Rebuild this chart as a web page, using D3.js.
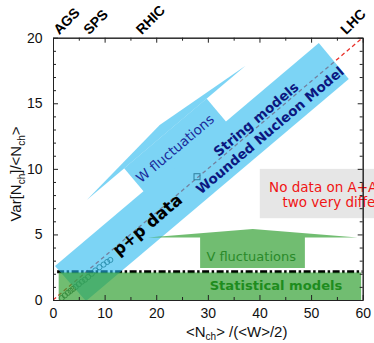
<!DOCTYPE html>
<html>
<head>
<meta charset="utf-8">
<script src="https://cdnjs.cloudflare.com/ajax/libs/d3/7.8.5/d3.min.js"></script>
<style>
  body { margin: 0; background: #fff; }
  svg { display: block; }
</style>
</head>
<body>
<div id="chart"></div>
<script>
// p+p data points
var ppX = [1.7, 2.3, 2.9, 3.4, 3.9, 4.4, 5.0, 5.6, 6.2, 6.8, 7.5, 8.2, 9.0, 9.8, 10.5, 11.1];
var ppY = [0.15, 0.35, 0.55, 0.7, 0.85, 1.0, 1.2, 1.4, 1.55, 1.75, 2.0, 2.25, 2.5, 2.7, 2.9, 3.05];
var aaX = [27.9];
var aaY = [9.4];

// ticks
var xTicks = [0, 10, 20, 30, 40, 50, 60];
var yTicks = [0, 5, 10, 15, 20];

// energy labels on the top axis
var machines = ["AGS", "SPS", "RHIC", "LHC"];
var machineX = [1.2, 7.0, 17.2, 56.8];

// reference line Var/N = N/(W/2)/3
var lineX = [0, 60];
var lineY = [0, 20];

// statistical model level
var statLevel = 2.15;
var statX = [1.1, 59.7];
var statLineX = [0.8, 60];

// string / wounded nucleon band (corners)
var bandX = [0.39, 51.5, 57.3, 6.39];
var bandY = [2.59, 19.6, 16.85, -0.08];

// W fluctuations arrow (shaft + head)
var wShaftX = [17.9, 33.87, 29.75, 13.78];
var wShaftY = [8.12, 13.43, 15.36, 10.04];
var wHeadX = [6.54, 20.67, 37.3];
var wHeadY = [7.63, 13.34, 17.87];

// V fluctuations arrow (shaft + head)
var vShaftX = [28.5, 48.8];
var vShaftY = [2.44, 4.9];
var vHeadX = [18.4, 38.7, 59.0];
var vHeadY = [4.77, 5.41, 4.77];

// no data box
var boxX = [40.06, 64];
var boxY = [6.24, 10.0];

var margin = {top: 37.7, right: 11.3, bottom: 43, left: 53},
    width = 374 - margin.left - margin.right,
    height = 343 - margin.top - margin.bottom;

var svgRoot = d3.select("#chart")
  .append("svg")
    .attr("width", 374)
    .attr("height", 343);

var svg = svgRoot.append("g")
    .attr("transform", "translate(" + margin.left + "," + margin.top + ")");

var x = d3.scaleLinear().domain([0, 60]).range([0, width]);
var y = d3.scaleLinear().domain([0, 20]).range([height, 0]);

// slope of the diagonal in screen space
var angle = Math.atan2(y(lineY[1]) - y(lineY[0]), x(lineX[1]) - x(lineX[0])) * 180 / Math.PI;

svg.append("clipPath").attr("id", "plotclip")
  .append("rect").attr("width", width).attr("height", height);

function poly(xs, ys) {
  var pts = xs.map(function(v, i) { return [x(v), y(ys[i])]; });
  return "M" + pts.map(function(p) { return p.join(","); }).join("L") + "Z";
}

// grey "no data" box
svg.append("rect")
  .attr("x", x(boxX[0]))
  .attr("y", y(boxY[1]))
  .attr("width", x(boxX[1]) - x(boxX[0]))
  .attr("height", y(boxY[0]) - y(boxY[1]))
  .attr("fill", "#e6e6e6");

var plot = svg.append("g").attr("clip-path", "url(#plotclip)");

// red dashed reference line
plot.append("line")
  .attr("x1", x(lineX[0])).attr("y1", y(lineY[0]))
  .attr("x2", x(lineX[1])).attr("y2", y(lineY[1]))
  .attr("stroke", "#e8302a")
  .attr("stroke-width", 1.3)
  .attr("stroke-dasharray", "4,3");

// p+p data
plot.selectAll("circle.pp")
  .data(ppX)
  .enter().append("circle")
    .attr("class", "pp")
    .attr("cx", function(d) { return x(d); })
    .attr("cy", function(d, i) { return y(ppY[i]); })
    .attr("r", 2.6)
    .attr("fill", "none")
    .attr("stroke", "#33504a")
    .attr("stroke-width", 0.9);

// statistical model line (dash-dot)
plot.append("line")
  .attr("x1", x(statLineX[0])).attr("y1", y(statLevel))
  .attr("x2", x(statLineX[1])).attr("y2", y(statLevel))
  .attr("stroke", "#000")
  .attr("stroke-width", 3)
  .attr("stroke-dasharray", "7,2.5,2.5,2.5");

// blue band + W arrow, composited together so overlaps don't darken
var blue = plot.append("g").attr("opacity", 0.6);
blue.append("path").attr("d", poly(bandX, bandY)).attr("fill", "#26b7ee");
blue.append("path").attr("d", poly(wShaftX, wShaftY)).attr("fill", "#26b7ee");
blue.append("path").attr("d", poly(wHeadX, wHeadY)).attr("fill", "#26b7ee");

// green statistical box + V arrow
var green = plot.append("g").attr("opacity", 0.7);
green.append("path")
  .attr("d", poly([statX[0], statX[1], statX[1], statX[0]], [0, 0, statLevel - 0.05, statLevel - 0.05]))
  .attr("fill", "#36a136");
green.append("path")
  .attr("d", poly([vShaftX[0], vShaftX[1], vShaftX[1], vShaftX[0]], [vShaftY[0], vShaftY[0], vShaftY[1], vShaftY[1]]))
  .attr("fill", "#36a136");
green.append("path")
  .attr("d", poly(vHeadX, vHeadY))
  .attr("fill", "#36a136");

// A+A marker
plot.selectAll("rect.aa")
  .data(aaX)
  .enter().append("rect")
    .attr("class", "aa")
    .attr("x", function(d) { return x(d) - 3; })
    .attr("y", function(d, i) { return y(aaY[i]) - 3; })
    .attr("width", 6).attr("height", 6)
    .attr("fill", "none")
    .attr("stroke", "#2f7f9f")
    .attr("stroke-width", 1);

// rotated labels along the band
function diagText(tx, ty, str, size, weight, color) {
  svg.append("text")
    .attr("transform", "translate(" + x(tx) + "," + y(ty) + ") rotate(" + angle + ")")
    .attr("text-anchor", "middle")
    .attr("dominant-baseline", "central")
    .attr("font-family", "DejaVu Sans")
    .attr("font-size", size)
    .attr("font-weight", weight)
    .attr("fill", color)
    .text(str);
}
diagText(18.3, 5.73, "p+p data", 16.5, "bold", "#000");
diagText(39.3, 13.8, "String models", 13.5, "bold", "#0b1780");
diagText(42.0, 12.96, "Wounded Nucleon Model", 13.5, "bold", "#0b1780");
diagText(23.6, 11.56, "W fluctuations", 13.5, "normal", "#1a2a9a");

svg.append("text")
  .attr("x", x(38.4)).attr("y", y(3.35))
  .attr("text-anchor", "middle")
  .attr("dominant-baseline", "central")
  .attr("font-family", "DejaVu Sans")
  .attr("font-size", 13)
  .attr("fill", "#2a8a2a")
  .text("V fluctuations");

svg.append("text")
  .attr("x", x(43.2)).attr("y", y(1.14))
  .attr("text-anchor", "middle")
  .attr("dominant-baseline", "central")
  .attr("font-family", "DejaVu Sans")
  .attr("font-size", 13.1)
  .attr("font-weight", "bold")
  .attr("fill", "#1e8c1e")
  .text("Statistical models");

// no data text (runs off the right edge like the original)
svg.append("text")
  .attr("x", x(41.87)).attr("y", y(8.64))
  .attr("dominant-baseline", "central")
  .attr("font-family", "DejaVu Sans")
  .attr("font-size", 13.5)
  .attr("fill", "#f01414")
  .text("No data on A+A");
svg.append("text")
  .attr("x", x(44.46)).attr("y", y(7.5))
  .attr("dominant-baseline", "central")
  .attr("font-family", "DejaVu Sans")
  .attr("font-size", 13.5)
  .attr("fill", "#f01414")
  .text("two very diffe");

// axes: ticks point inwards
var font = "Liberation Sans, Arial, sans-serif";
function styleAxis(g) {
  g.selectAll("path").attr("stroke", "#222");
  g.selectAll("line").attr("stroke", "#222");
  g.selectAll("text").attr("font-family", font).attr("font-size", 14).attr("fill", "#111");
}
svg.append("g")
  .attr("transform", "translate(0," + height + ")")
  .call(d3.axisBottom(x).tickValues(xTicks).tickSizeInner(-5).tickSizeOuter(0).tickPadding(8))
  .call(styleAxis);
svg.append("g")
  .call(d3.axisLeft(y).tickValues(yTicks).tickSizeInner(-5).tickSizeOuter(0).tickPadding(10.5))
  .call(styleAxis);
svg.append("g")
  .call(d3.axisTop(x).tickValues(xTicks).tickSizeInner(-5).tickSizeOuter(0).tickFormat(""))
  .call(styleAxis);
svg.append("g")
  .attr("transform", "translate(" + width + ",0)")
  .call(d3.axisRight(y).tickValues(yTicks).tickSizeInner(-5).tickSizeOuter(0).tickFormat(""))
  .call(styleAxis);

// minor ticks
var xMinor = d3.range(5, 60, 10);
var yMinor = d3.range(0, 21, 1).filter(function(v) { return v % 5 !== 0; });
svg.append("g").attr("transform", "translate(0," + height + ")")
  .call(d3.axisBottom(x).tickValues(xMinor).tickSizeInner(-3).tickSizeOuter(0).tickFormat("")).call(styleAxis);
svg.append("g")
  .call(d3.axisTop(x).tickValues(xMinor).tickSizeInner(-3).tickSizeOuter(0).tickFormat("")).call(styleAxis);
svg.append("g")
  .call(d3.axisLeft(y).tickValues(yMinor).tickSizeInner(-3).tickSizeOuter(0).tickFormat("")).call(styleAxis);
svg.append("g").attr("transform", "translate(" + width + ",0)")
  .call(d3.axisRight(y).tickValues(yMinor).tickSizeInner(-3).tickSizeOuter(0).tickFormat("")).call(styleAxis);

// machine labels above the top axis
machines.forEach(function(m, i) {
  svg.append("text")
    .attr("transform", "translate(" + x(machineX[i]) + "," + (-2.5) + ") rotate(-45)")
    .attr("font-family", font)
    .attr("font-size", 14)
    .attr("font-weight", 600)
    .attr("fill", "#000")
    .text(m);
});

// axis titles
var yTitle = svgRoot.append("text")
  .attr("transform", "translate(20.5,174) rotate(-90)")
  .attr("text-anchor", "middle")
  .attr("font-family", font)
  .attr("font-size", 15)
  .attr("fill", "#111");
yTitle.append("tspan").text("Var[N");
yTitle.append("tspan").attr("font-size", 10).attr("dy", 4).text("ch");
yTitle.append("tspan").attr("dy", -4).text("]/<N");
yTitle.append("tspan").attr("font-size", 10).attr("dy", 4).text("ch");
yTitle.append("tspan").attr("dy", -4).text(">");

var xTitle = svgRoot.append("text")
  .attr("x", 186).attr("y", 337)
  .attr("font-family", font)
  .attr("font-size", 15)
  .attr("fill", "#111");
xTitle.append("tspan").text("<N");
xTitle.append("tspan").attr("font-size", 10).attr("dy", 3).text("ch");
xTitle.append("tspan").attr("dy", -3).text("> /(<W>/2)");
</script>
</body>
</html>
